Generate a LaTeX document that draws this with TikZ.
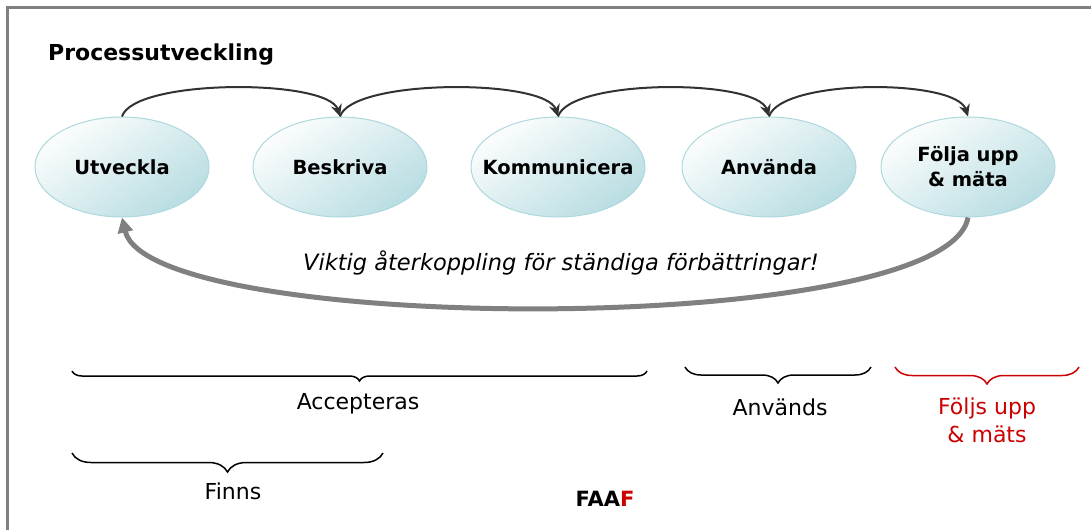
\documentclass[tikz,border=0pt]{standalone}
\usepackage{fontspec}
\setmainfont{DejaVu Sans}[
  BoldFont={DejaVu Sans Bold},
  ItalicFont={DejaVu Sans Oblique},
  BoldItalicFont={DejaVu Sans Bold Oblique}]
\usetikzlibrary{calc,arrows.meta,decorations.pathreplacing,shapes.geometric}

\definecolor{framegray}{RGB}{128,128,128}
\definecolor{ovalline}{RGB}{172,216,222}
\definecolor{ovaldark}{RGB}{184,221,226}
\definecolor{ovallight}{RGB}{252,253,253}
\definecolor{flowgray}{RGB}{50,50,50}
\definecolor{loopgray}{RGB}{128,128,128}
\definecolor{accentred}{RGB}{204,0,0}

\begin{document}
\begin{tikzpicture}[x=1pt,y=-1pt,
  stage/.style={ellipse, minimum width=174pt, minimum height=100pt,
    inner xsep=-14pt, inner ysep=0pt,
    draw=ovalline, line width=1pt, top color=ovallight, bottom color=ovaldark,
    shading angle=35, font=\fontsize{19.5}{25}\selectfont\bfseries, align=center},
  flow/.style={draw=flowgray, line width=2pt, -{Stealth[length=12pt,width=11pt]}},
  loopback/.style={draw=loopgray, line width=5pt, -{Triangle[length=15pt,width=15pt]}},
  bracket/.style={decorate, decoration={brace, mirror, amplitude=#1}, line width=1.5pt},
  bracelabel/.style={font=\fontsize{22}{28}\selectfont, anchor=base, inner sep=0pt}
]
\useasboundingbox (0,0) rectangle (1091,530);

% frame along the top and left edges
\coordinate (frame-bl) at (7.5,530);
\coordinate (frame-tl) at (7.5,7);
\coordinate (frame-tr) at (1091,7);
\draw[framegray, line width=3pt] (frame-bl) -- (frame-tl) -- (frame-tr);

% heading
\node[anchor=base west, inner sep=0pt, font=\fontsize{22}{26}\selectfont\bfseries]
  (title) at (48,60) {Processutveckling};

% process stages
\node[stage] (u) at (122,167) {Utveckla};
\node[stage] (b) at (340,167) {Beskriva};
\node[stage] (k) at (558,167) {Kommunicera};
\node[stage] (a) at (769,167) {Använda};
\node[stage] (f) at (968,167) {Följa upp\\\& mäta};

% forward flow between stages
\draw[flow] (u.north) .. controls ($(u.north)+(12,-38)$) and ($(b.north)+(-12,-38)$) .. (b.north);
\draw[flow] (b.north) .. controls ($(b.north)+(12,-38)$) and ($(k.north)+(-12,-38)$) .. (k.north);
\draw[flow] (k.north) .. controls ($(k.north)+(12,-38)$) and ($(a.north)+(-12,-38)$) .. (a.north);
\draw[flow] (a.north) .. controls ($(a.north)+(12,-38)$) and ($(f.north)+(-12,-38)$) .. (f.north);

% feedback loop
\draw[loopback] (f.south) .. controls ($(f.south)+(-22,121)$) and ($(u.south)+(28,118)$) .. (u.south);
\node[font=\fontsize{22.5}{27}\selectfont\itshape] (note) at (561,263)
  {Viktig återkoppling för ständiga förbättringar!};

% braces with their labels
\coordinate (acc-l) at (72,371);  \coordinate (acc-r) at (647,371);
\coordinate (anv-l) at (685,367); \coordinate (anv-r) at (871,367);
\coordinate (fol-l) at (895,367); \coordinate (fol-r) at (1079,367);
\coordinate (fin-l) at (72,453);  \coordinate (fin-r) at (383,453);

\draw[bracket=10pt] (acc-l) -- (acc-r);
\draw[bracket=16pt] (anv-l) -- (anv-r);
\draw[bracket=17pt, accentred] (fol-l) -- (fol-r);
\draw[bracket=19pt] (fin-l) -- (fin-r);

\node[bracelabel] (acc-t) at (358,409) {Accepteras};
\node[bracelabel] (anv-t) at (780,415) {Används};
\node[bracelabel, text=accentred] (fol-t1) at (987,414) {Följs upp};
\node[bracelabel, text=accentred] (fol-t2) at (987,442) {\& mäts};
\node[bracelabel] (fin-t) at (233,499) {Finns};

% acronym
\node[anchor=base, inner sep=0pt, font=\fontsize{21}{25}\selectfont\bfseries]
  (faaf) at (605,506) {FAA\textcolor{accentred}{F}};
\end{tikzpicture}
\end{document}
